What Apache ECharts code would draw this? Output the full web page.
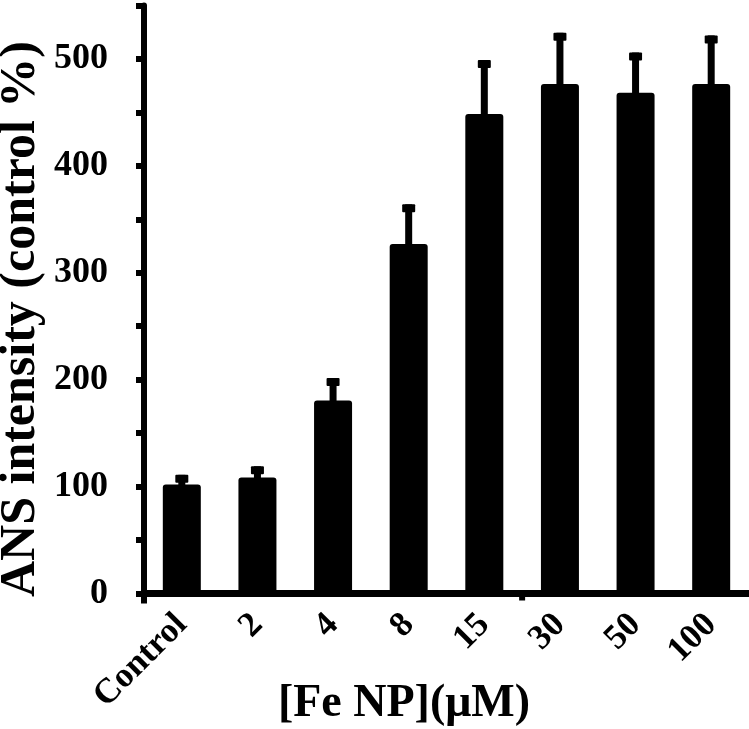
<!DOCTYPE html>
<html>
<head>
<meta charset="utf-8">
<script src="https://cdn.jsdelivr.net/npm/echarts@6/dist/echarts.min.js"></script>
<style>
html,body{margin:0;padding:0;background:#fff;}
#c{width:749px;height:729px;}
</style>
</head>
<body>
<div id="c"></div>
<script>
var categories = ['Control', '2', '4', '8', '15', '30', '50', '100'];
var means = [102, 108.5, 180.5, 327, 448.5, 476.5, 468.5, 476.5];
var errors = [9, 10.5, 21, 37, 50.5, 48, 37.5, 45.5];
var yTickLabels = [0, 100, 200, 300, 400, 500];
var xTickBoundaries = [0, 5];
var xName = '[Fe NP](\u03bcM)';
var yName = 'ANS intensity (control %)';

var FONT = '"Liberation Serif", "Times New Roman", Times, serif';

var errData = means.map(function (m, i) { return [i, m, m + errors[i]]; });

var nameGraphics = [
  {
    type: 'text', x: 404, y: 704,
    style: {text: xName, font: 'bold 46px ' + FONT, fill: '#000', textAlign: 'center', textVerticalAlign: 'middle'}
  },
  {
    type: 'text', x: 21, y: 319, rotation: Math.PI / 2,
    style: {text: yName, font: 'bold 50px ' + FONT, fill: '#000', textAlign: 'center', textVerticalAlign: 'middle'}
  }
];

var chart = echarts.init(document.getElementById('c'), null, {renderer: 'canvas'});
chart.setOption({
  animation: false,
  backgroundColor: '#ffffff',
  grid: {left: 144, top: 5.5, bottom: 135.5, width: 608, containLabel: false},
  xAxis: {
    type: 'category',
    data: categories,
    boundaryGap: true,
    axisLine: {lineStyle: {color: '#000', width: 7}},
    axisTick: {show: false},
    axisLabel: {
      rotate: 45, margin: 26, interval: 0,
      fontFamily: FONT, fontWeight: 'bold', fontSize: 35, color: '#000'
    },
    splitLine: {show: false}
  },
  yAxis: {
    type: 'value',
    min: 0, max: 550, interval: 50,
    axisLine: {show: true, lineStyle: {color: '#000', width: 6}},
    axisTick: {show: true, length: 8, inside: false, lineStyle: {color: '#000', width: 6}},
    axisLabel: {
      margin: 36,
      fontFamily: FONT, fontWeight: 'bold', fontSize: 36, color: '#000',
      formatter: function (v) { return yTickLabels.indexOf(v) >= 0 ? String(v) : ''; }
    },
    splitLine: {show: false}
  },
  series: [
    {
      type: 'bar',
      data: means,
      barWidth: 38,
      itemStyle: {color: '#000', borderRadius: 3},
      z: 2
    },
    {
      type: 'custom',
      data: errData,
      z: 3,
      renderItem: function (params, api) {
        var x = api.value(0);
        var top = api.coord([x, api.value(2)]);
        var base = api.coord([x, api.value(1)]);
        var cx = top[0];
        return {
          type: 'group',
          children: [
            {type: 'rect', shape: {x: cx - 3.5, y: top[1], width: 7, height: base[1] - top[1] + 2}, style: {fill: '#000'}},
            {type: 'rect', shape: {x: cx - 6.5, y: top[1], width: 13, height: 8, r: 1}, style: {fill: '#000'}}
          ]
        };
      }
    }
  ],
  graphic: nameGraphics
});

// x-axis tick marks at category boundaries, positioned through the axis scale
var p0 = chart.convertToPixel({xAxisIndex: 0}, 0);
var p1 = chart.convertToPixel({xAxisIndex: 0}, 1);
var half = (p1 - p0) / 2;
var y0 = chart.convertToPixel({yAxisIndex: 0}, 0);
var tickGraphics = xTickBoundaries.map(function (i, k) {
  var bx = chart.convertToPixel({xAxisIndex: 0}, i) - half;
  var len = k === 0 ? 10 : 7;
  return {type: 'rect', shape: {x: bx - 3, y: y0, width: 6, height: len}, style: {fill: '#000'}, z: 10};
});
chart.setOption({graphic: nameGraphics.concat(tickGraphics)}, {replaceMerge: ['graphic']});
</script>
</body>
</html>
